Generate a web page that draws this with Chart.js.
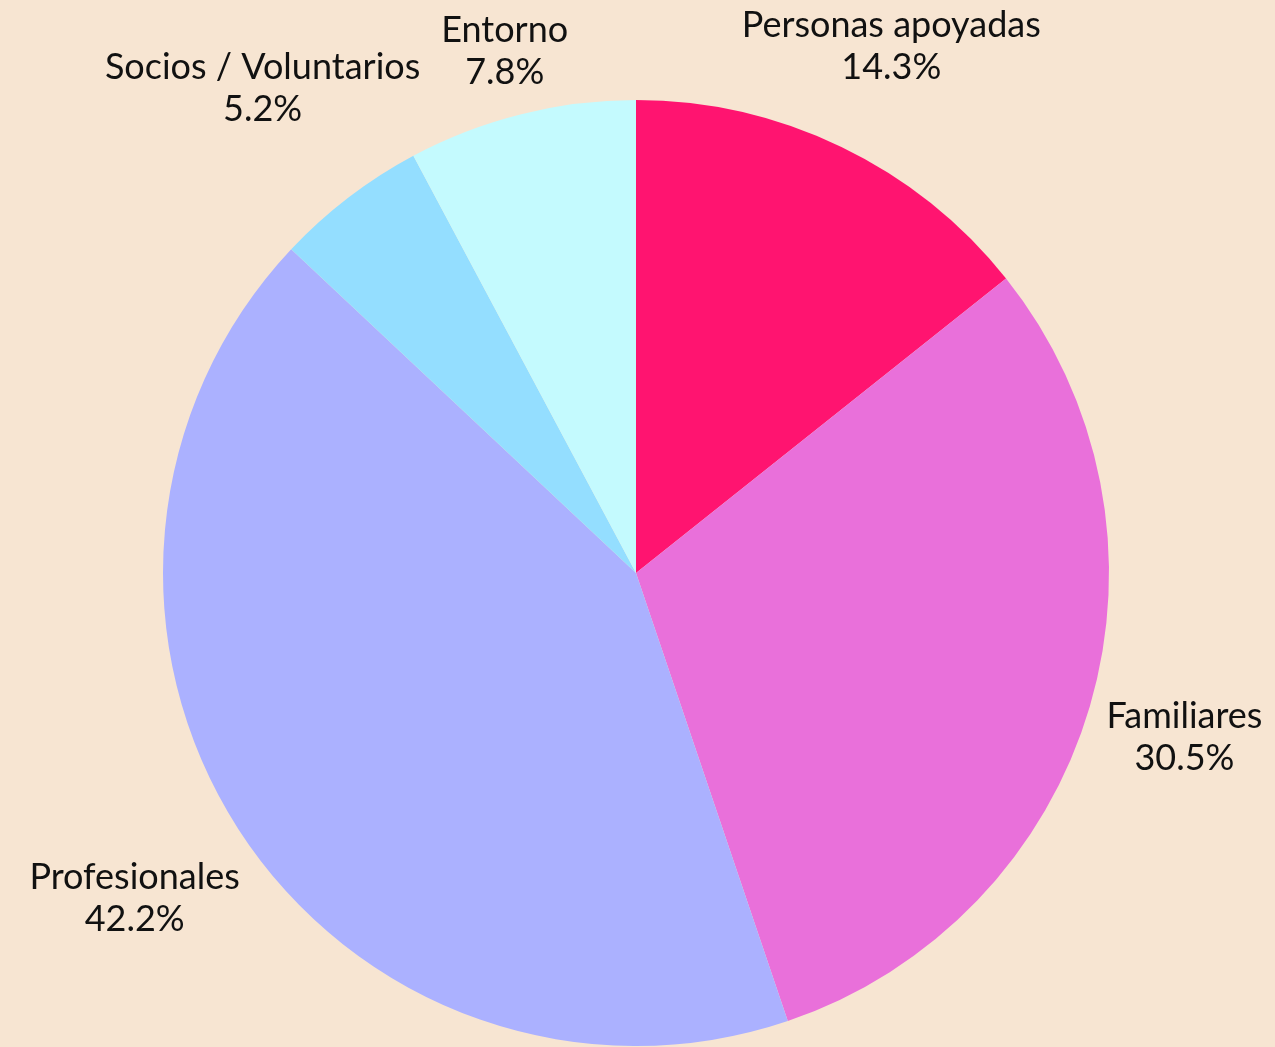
<!DOCTYPE html>
<html>
<head>
<meta charset="utf-8">
<script src="https://cdn.jsdelivr.net/npm/chart.js@4.4.0/dist/chart.umd.min.js"></script>
<style>
  html, body { margin: 0; padding: 0; background: #F7E5D2; }
  #wrap { width: 1275px; height: 1047px; }
</style>
</head>
<body>
<div id="wrap"><canvas id="pie"></canvas></div>
<script>
// slices, clockwise from 12 o'clock
const categories = ['Personas apoyadas', 'Familiares', 'Profesionales', 'Socios / Voluntarios', 'Entorno'];
const shares = [14.3, 30.5, 42.2, 5.2, 7.8];
const sliceColors = ['#FF1470', '#E970DA', '#ABB1FF', '#94DEFF', '#C4FAFE'];

const FONT = '36px Lato, "DejaVu Sans", sans-serif';
const LINE_H = 42;
const GAP = 12;

// name + percent outside each slice; box pushed out until it clears the rim
const outsideLabels = {
    id: 'outsideLabels',
    afterDatasetsDraw(chart) {
        const ctx = chart.ctx;
        const meta = chart.getDatasetMeta(0);
        ctx.save();
        ctx.font = FONT;
        ctx.fillStyle = '#111111';
        ctx.textAlign = 'center';
        ctx.textBaseline = 'middle';
        meta.data.forEach((arc, i) => {
            const p = arc.getProps(['x', 'y', 'startAngle', 'endAngle', 'outerRadius'], true);
            const mid = (p.startAngle + p.endAngle) / 2;
            const lines = [categories[i], shares[i].toFixed(1) + '%'];
            const w = Math.max(...lines.map(l => ctx.measureText(l).width));
            const h = LINE_H * lines.length;
            const c = Math.cos(mid), s = Math.sin(mid);
            const d = p.outerRadius + GAP + Math.abs(c) * w / 2 + Math.abs(s) * h / 2;
            const cx = p.x + c * d;
            const cy = p.y + s * d + 3;
            lines.forEach((l, j) => {
                ctx.fillText(l, cx, cy - h / 2 + LINE_H * (j + 0.5));
            });
        });
        ctx.restore();
    }
};

new Chart(document.getElementById('pie'), {
    type: 'pie',
    data: {
        labels: categories,
        datasets: [{
            data: shares,
            backgroundColor: sliceColors,
            borderWidth: 0
        }]
    },
    options: {
        responsive: true,
        maintainAspectRatio: false,
        animation: false,
        layout: { padding: { top: 100, bottom: 1, left: 0, right: 3 } },
        plugins: {
            legend: { display: false },
            tooltip: { enabled: false }
        }
    },
    plugins: [outsideLabels]
});
</script>
</body>
</html>
